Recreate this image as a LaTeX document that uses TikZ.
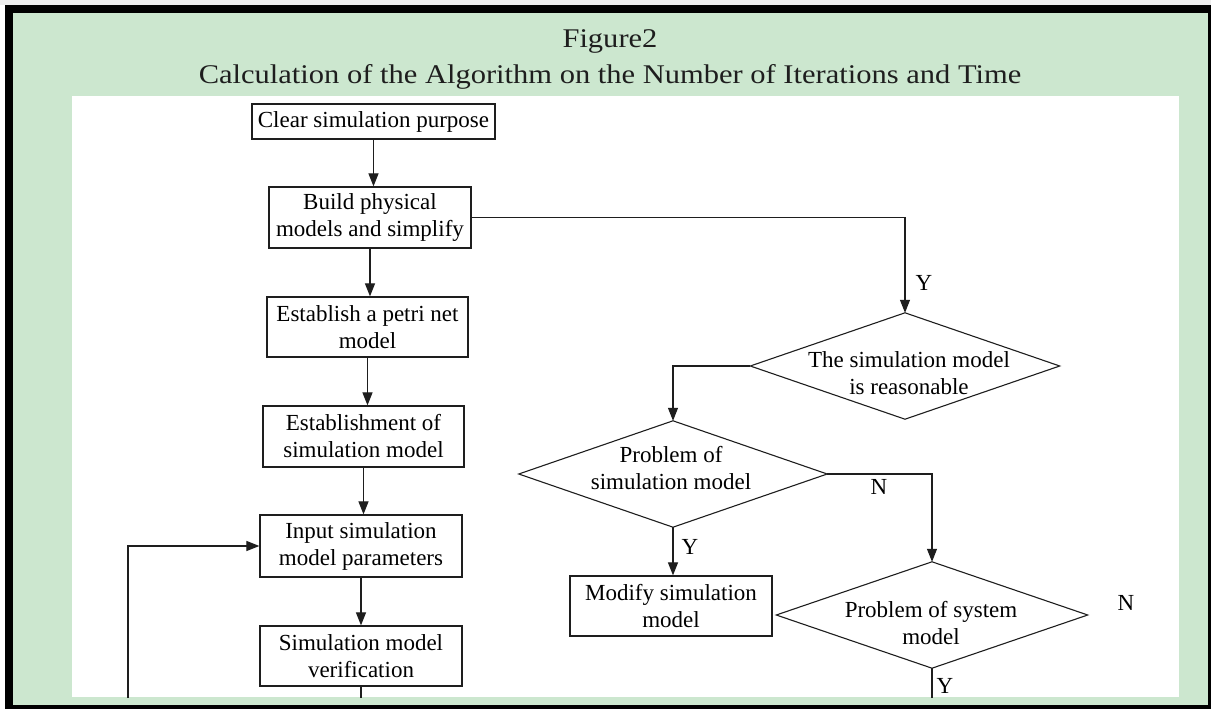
\documentclass[tikz,border=0pt]{standalone}
\usepackage{fontspec}
\setmainfont{Liberation Serif}
\usetikzlibrary{arrows.meta}
\definecolor{framegreen}{HTML}{CCE7CF}
\definecolor{linegray}{HTML}{1E1E1E}
\definecolor{titlecol}{HTML}{1E1E1E}
\tikzset{
  box/.style={draw=linegray, line width=1.2pt, fill=white, align=center, inner sep=0pt,
    font=\fontsize{23}{27}\selectfont},
  decshape/.style={shape=rectangle, inner sep=0pt},
  dectext/.style={align=center, inner sep=0pt, font=\fontsize{23}{27}\selectfont},
  conn/.style={draw=linegray, line width=1.1pt},
  arr/.style={conn, -{Triangle[length=13pt,width=10pt]}},
  lab/.style={font=\fontsize{23}{27}\selectfont, inner sep=0pt},
}
\begin{document}
\begin{tikzpicture}[x=1pt,y=-1pt]
\useasboundingbox (0,0) rectangle (1211,709);
% frame
\fill[white] (0,0) rectangle (1211,709);
\fill[black!7] (0,0) rectangle (1211,5);
\fill[black] (5,5) rectangle (1211,709);
\fill[framegreen] (13,13) rectangle (1208,705);
\fill[white] (72,96) rectangle (1179,697);
% title
\node[titlecol, inner sep=0pt, font=\fontsize{27}{32}\selectfont] (t1) at (610,41)
  {\scalebox{1.13}[1]{Figure2}};
\node[titlecol, inner sep=0pt, font=\fontsize{27}{32}\selectfont] (t2) at (610,77)
  {\scalebox{1.13}[1]{Calculation of the Algorithm on the Number of Iterations and Time}};
\begin{scope}
\clip (72,96) rectangle (1179,697);
% left column
\node[box, minimum width=243pt, minimum height=35pt] (b1) at (373.5,121.5) {Clear simulation purpose};
\node[box, minimum width=202pt, minimum height=61pt] (b2) at (370,217.5) {Build physical\\models and simplify};
\node[box, minimum width=201pt, minimum height=60pt] (b3) at (367.5,327) {Establish a petri net\\model};
\node[box, minimum width=201pt, minimum height=61pt] (b4) at (363.5,436.5) {Establishment of\\simulation model};
\node[box, minimum width=202pt, minimum height=62pt] (b5) at (361,546) {Input simulation\\model parameters};
\node[box, minimum width=202pt, minimum height=60pt] (b6) at (361,656) {Simulation model\\verification};
% right part: diamond outlines
\node[decshape, minimum width=309pt, minimum height=106pt] (d1) at (905,366) {};
\node[decshape, minimum width=308pt, minimum height=106pt] (d2) at (673,474) {};
\node[decshape, minimum width=311pt, minimum height=106pt] (d3) at (932,615) {};
\foreach \d in {d1,d2,d3}{
  \draw[draw=linegray, line width=1.1pt] (\d.north) -- (\d.east) -- (\d.south) -- (\d.west) -- cycle;
}
\node[dectext] (d1t) at (909,373) {The simulation model\\is reasonable};
\node[dectext] (d2t) at (671,468) {Problem of\\simulation model};
\node[dectext] (d3t) at (931,623) {Problem of system\\model};
\node[box, minimum width=202pt, minimum height=60pt] (m1) at (671,606) {Modify simulation\\model};
\coordinate (e6) at (361,700);
\coordinate (e3) at (932,700);
\coordinate (fb) at (128,700);
% connectors
\draw[arr] (b1.south) -- (b1.south |- b2.north);
\draw[arr] (b2.south) -- (b2.south |- b3.north);
\draw[arr] (b3.south) -- (b3.south |- b4.north);
\draw[arr] (b4.south) -- (b4.south |- b5.north);
\draw[arr] (b5.south) -- (b5.south |- b6.north);
\draw[conn] (b6.south) -- (e6);
\draw[arr] (fb) |- (b5.west);
\draw[arr] (b2.east) -| (d1.north);
\draw[arr] (d1.west) -| (d2.north);
\draw[arr] (d2.east) -| (d3.north);
\draw[arr] (d2.south) -- (d2.south |- m1.north);
\draw[conn] (d3.south) -- (e3);
% labels
\node[lab] (ly1) at (924,283) {Y};
\node[lab] (ln1) at (879,487) {N};
\node[lab] (ly2) at (690,547) {Y};
\node[lab] (ln2) at (1126,603) {N};
\node[lab] (ly3) at (945,686) {Y};
\end{scope}
\end{tikzpicture}
\end{document}
